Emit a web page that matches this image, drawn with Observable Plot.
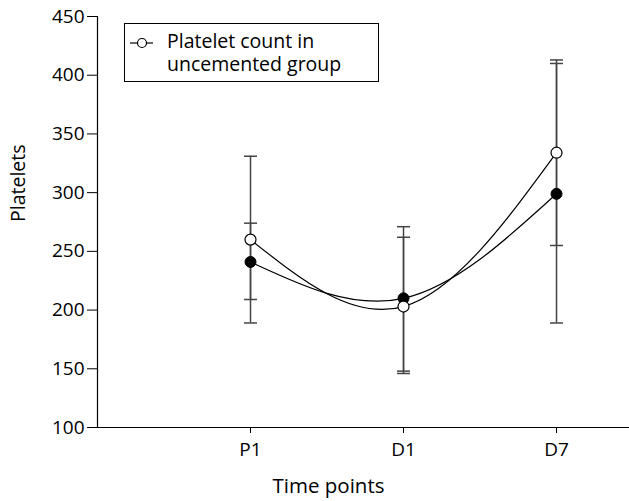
<!DOCTYPE html>
<html>
<head>
<meta charset="utf-8">
<script src="https://cdn.jsdelivr.net/npm/d3@7"></script>
<script src="https://cdn.jsdelivr.net/npm/@observablehq/plot@0.6"></script>
<style>
  html, body { margin: 0; padding: 0; background: #fff; }
  #wrap { position: relative; width: 629px; height: 501px; font-family: "Open Sans", sans-serif; }
  #legend { position: absolute; left: 124px; top: 23px; width: 253px; height: 57px; border: 1px solid #000;
            font-size: 19.5px; line-height: 19.5px; background: #fff; box-sizing: content-box; }
  #legend .ln { position: absolute; left: 42px; white-space: nowrap; }
</style>
</head>
<body>
<div id="wrap"></div>
<script>
const categories = ["P1", "D1", "D7"];
const uncementedMean = [260, 203, 334];
const uncementedLow = [189, 146, 255];
const uncementedHigh = [331, 262, 413];
const cementedMean = [241, 210, 299];
const cementedLow = [209, 148, 189];
const cementedHigh = [274, 271, 410];
const yTicks = [100, 150, 200, 250, 300, 350, 400, 450];
const legendLines = ["Platelet count in", "uncemented group"];

const rows = [];
categories.forEach((c, i) => {
  rows.push({series: "uncemented", x: i + 1, mean: uncementedMean[i], lo: uncementedLow[i], hi: uncementedHigh[i]});
  rows.push({series: "cemented", x: i + 1, mean: cementedMean[i], lo: cementedLow[i], hi: cementedHigh[i]});
});
const unc = rows.filter(d => d.series === "uncemented");
const cem = rows.filter(d => d.series === "cemented");

const capSymbol = {draw(ctx) { ctx.moveTo(-6.5, 0); ctx.lineTo(6.5, 0); }};
const errColor = "#444";

const chart = Plot.plot({
  width: 629,
  height: 501,
  marginLeft: 97,
  marginRight: 0,
  marginTop: 16,
  marginBottom: 74,
  style: {fontFamily: "Open Sans, sans-serif", fontSize: "19px", color: "#000", background: "#fff"},
  x: {domain: [0, 3.477]},
  y: {domain: [100, 450]},
  marks: [
    Plot.axisY({ticks: yTicks, tickSize: 10, tickPadding: 3, label: null, fontSize: 19, stroke: "#000"}),
    Plot.axisX({ticks: [1, 2, 3], tickFormat: i => categories[i - 1], tickSize: 6, tickPadding: 9, label: null, fontSize: 19}),
    Plot.ruleX([0], {stroke: "#000", strokeWidth: 1.2}),
    Plot.ruleY([100], {stroke: "#000", strokeWidth: 1.2}),
    Plot.ruleX(rows, {x: "x", y1: "lo", y2: "hi", stroke: errColor, strokeWidth: 1.5}),
    Plot.dot(rows, {x: "x", y: "lo", symbol: capSymbol, r: 6, stroke: errColor, strokeWidth: 1.5}),
    Plot.dot(rows, {x: "x", y: "hi", symbol: capSymbol, r: 6, stroke: errColor, strokeWidth: 1.5}),
    Plot.line(cem, {x: "x", y: "mean", curve: "natural", stroke: "#000", strokeWidth: 1.2}),
    Plot.line(unc, {x: "x", y: "mean", curve: "natural", stroke: "#000", strokeWidth: 1.2}),
    Plot.dot(cem, {x: "x", y: "mean", r: 5.5, fill: "#000", stroke: "#000", strokeWidth: 1}),
    Plot.dot(unc, {x: "x", y: "mean", r: 5.5, fill: "#fff", stroke: "#000", strokeWidth: 1.2}),
    Plot.text(["Platelets"], {frameAnchor: "left", rotate: -90, dx: -78.5, fontSize: 19.5, fill: "#000"}),
    Plot.text(["Time points"], {frameAnchor: "bottom-left", dx: 231, dy: 51, lineAnchor: "top", textAnchor: "middle", fontSize: 20.5, fill: "#000"})
  ]
});

const wrap = document.getElementById("wrap");
wrap.appendChild(chart);

const legend = document.createElement("div");
legend.id = "legend";
legend.innerHTML = `
  <svg width="30" height="14" style="position:absolute;left:4px;top:12px">
    <line x1="1" y1="7" x2="24" y2="7" stroke="#000" stroke-width="1.2"/>
    <circle cx="13" cy="7" r="4.5" fill="#fff" stroke="#000" stroke-width="1.2"/>
  </svg>
  <div class="ln" style="top:6.5px">${legendLines[0]}</div>
  <div class="ln" style="top:29.5px">${legendLines[1]}</div>`;
wrap.appendChild(legend);
</script>
</body>
</html>
